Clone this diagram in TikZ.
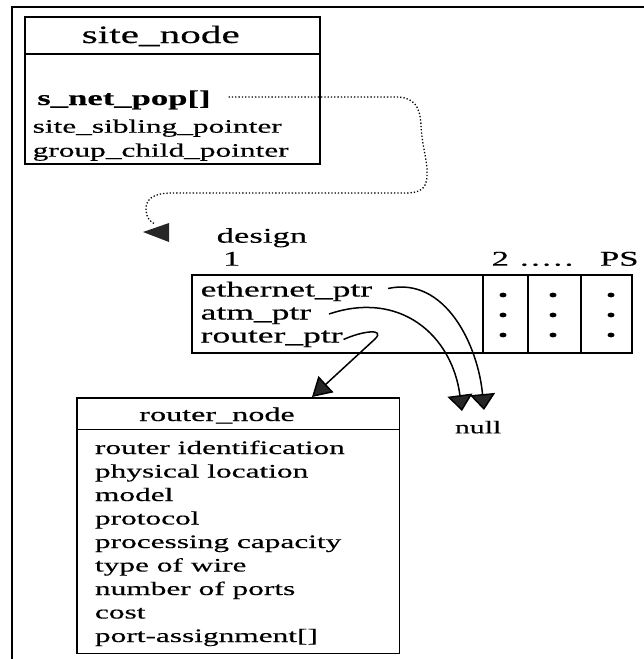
\documentclass[tikz,border=0pt]{standalone}
\usepackage{fontspec}
\setmainfont{Liberation Serif}[FakeStretch=1.65, FakeBold=0.4]
\usetikzlibrary{arrows.meta}

% font sizes used in the record boxes
\newcommand\fsbody{\fontsize{19}{23}\selectfont}
\newcommand\fsrec{\fontsize{21.5}{23}\selectfont}
\newcommand\fsbig{\fontsize{25}{28}\selectfont}

\tikzset{
  frameline/.style={line width=1.8pt},
  recbox/.style={draw, line width=1.6pt, inner sep=0pt, outer sep=0pt, anchor=north west},
  boxline/.style={line width=1.6pt},
  lbl/.style={inner sep=0pt, outer sep=0pt, anchor=base west},
  ptr/.style={line width=1.5pt},
  headfill/.style={fill=black!85},
  nullhead/.style={-{Triangle[length=16pt,width=25pt,fill=black!85]}},
  routerhead/.style={-{Triangle[length=19pt,width=22pt,fill=black!85]}},
}

\begin{document}
\begin{tikzpicture}[x=1pt,y=-1pt]
\useasboundingbox (0,0) rectangle (644,659);

% outer frame (cut off at the right and bottom)
\draw[frameline] (12,700) -- (12,7) -- (700,7);

% ---------- site_node record ----------
\node[recbox, minimum width=295pt, minimum height=147pt] (site) at (25,17) {};
\draw[boxline] ([yshift=-37pt]site.north west) -- ([yshift=-37pt]site.north east);
\node[lbl] (sitehead) at (81.7,43) {\fsbig site\_node};
\node[lbl] (snet) at (37.3,105) {\fontsize{21}{23}\selectfont\bfseries s\_net\_pop[]};
\node[lbl] (sibling) at (32.7,132.7) {\fsbody site\_sibling\_pointer};
\node[lbl] (child) at (32.7,156.7) {\fsbody group\_child\_pointer};

% ---------- design array ----------
\node[lbl] (design) at (216.7,242.7) {\fontsize{21}{23}\selectfont design};
\node[lbl] (idx1) at (223,265.7) {\fontsize{21}{23}\selectfont 1};
\node[lbl] (idx2) at (491.7,265.7) {\fontsize{21}{23}\selectfont 2};
\node[lbl] (idxdots) at (520,265.7) {\fontsize{21}{23}\selectfont .\kern2.5pt.\kern2.5pt.\kern2.5pt.\kern2.5pt.};
\node[lbl] (idxps) at (600,265.7) {\fontsize{21}{23}\selectfont PS};

\node[recbox, minimum width=440pt, minimum height=78pt] (tbl) at (192,275) {};
\foreach \x in {483,528,581}
  \draw[boxline] (\x,275) -- (\x,353);
\foreach \x in {503,553,611}
  \foreach \y in {295,315,335}
    \fill (\x,\y) ellipse [x radius=3.5pt, y radius=2.4pt];

\node[lbl] (eth) at (200.7,296.5) {\fsrec ethernet\_ptr};
\node[lbl] (atm) at (200.7,319.5) {\fsrec atm\_ptr};
\node[lbl] (rptr) at (200.7,342.5) {\fsrec router\_ptr};

% ---------- null ----------
\node[lbl] (null) at (455,433.3) {\fontsize{18}{20}\selectfont null};
\coordinate (nullA) at (462,411);
\coordinate (nullB) at (484,410);

% ---------- router_node record ----------
\node[recbox, minimum width=322.6pt, minimum height=255.6pt] (router) at (76.7,397.7) {};
\draw[boxline] ([yshift=-31.8pt]router.north west) -- ([yshift=-31.8pt]router.north east);
\node[lbl] (routerhead) at (139.3,421) {\fontsize{19.5}{23}\selectfont router\_node};
\foreach \t [count=\i from 0] in {router identification, physical location, model, protocol,
    processing capacity, type of wire, number of ports, cost, port-assignment[]}
  \node[lbl] (field\i) at (95,454+23.5*\i) {\fsbody \t};

% ---------- pointers ----------
% s_net_pop[] -> design (dotted)
\coordinate (dotend) at (155,224);
\draw[line width=1.3pt, dotted]
  ([xshift=18pt, yshift=8pt]snet.base east) -- (395,97)
  .. controls (414,97) and (420,106) .. (421,125)
  .. controls (422,148) and (428,160) .. (427,177)
  .. controls (426,189) and (420,193) .. (405,193)
  -- (172,193)
  .. controls (152,193) and (145,200) .. (146,211)
  .. controls (147,218) and (150,222) .. (dotend);
\coordinate (dtip) at (143,232);
\fill[headfill] (dtip) -- (169,223) -- (169,242) -- cycle;

% ethernet_ptr -> null
\draw[ptr, nullhead] ([xshift=16pt, yshift=8pt]eth.base east)
  .. controls (445,276) and (478,345) .. (nullB);
% atm_ptr -> null
\draw[ptr, nullhead] ([xshift=18pt, yshift=5.5pt]atm.base east)
  .. controls (400,290) and (452,335) .. (nullA);
% router_ptr -> router_node
\coordinate (hook) at (375,339);
\draw[ptr, routerhead] ([xshift=1pt, yshift=3pt]rptr.base east)
  .. controls (362,331) and (386,328) .. (hook) -- (312,397);
\end{tikzpicture}
\end{document}
